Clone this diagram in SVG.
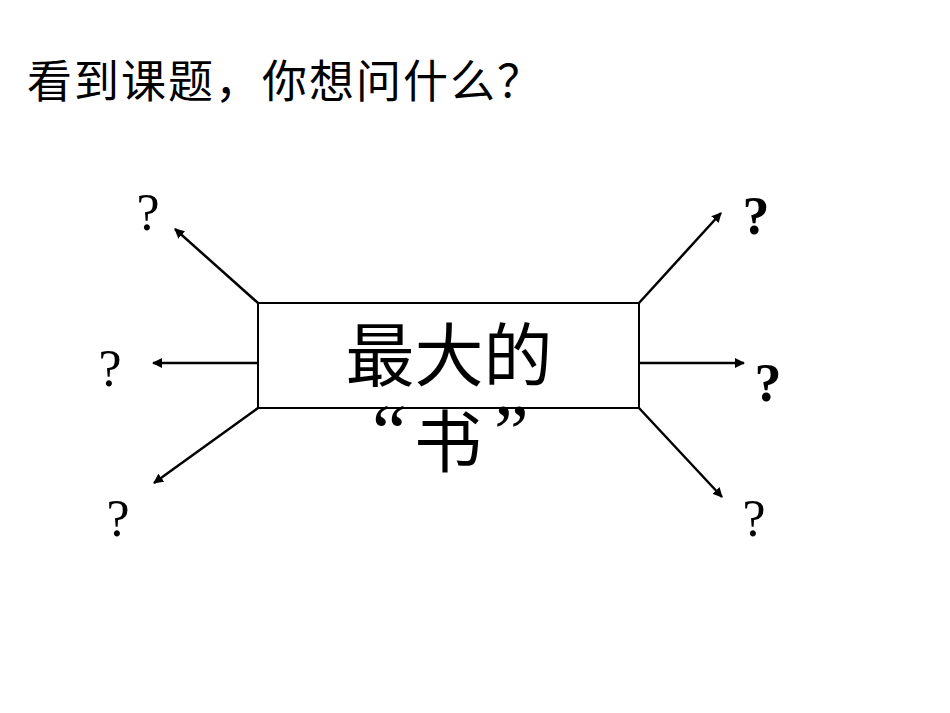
<svg xmlns="http://www.w3.org/2000/svg" width="950" height="713" viewBox="0 0 950 713">
<style>
.cjk{font-family:"Noto Sans CJK SC",sans-serif;fill:#000}
.q{font-family:"Liberation Serif",serif;font-size:52px;fill:#000}
.qb{font-family:"Liberation Serif",serif;font-size:54px;font-weight:bold;fill:#000}
.qt{font-family:"Liberation Serif",serif;font-size:78px;fill:#000}
.c{stroke:#000;stroke-width:2.5;fill:none;marker-end:url(#ah)}
</style>
<defs>
<marker id="ah" viewBox="0 0 10 10" refX="9" refY="5" markerWidth="4" markerHeight="4" orient="auto" markerUnits="strokeWidth">
<path d="M0,0 L10,5 L0,10 z" fill="#000"/>
</marker>
</defs>
<rect width="950" height="713" fill="#fff"/>
<g id="title"><text class="cjk" x="27 74 121 168 215 262 309 356 403 450 497" y="98" font-size="45">看到课题，你想问什么？</text></g>
<g id="center">
<rect x="258" y="303" width="381" height="105" fill="#fff" stroke="#000" stroke-width="2"/>
<text class="cjk" x="449" y="381" font-size="69" text-anchor="middle">最大的</text>
<text class="qt" x="372" y="458">“</text>
<text class="cjk" x="414" y="467" font-size="68">书</text>
<text class="qt" x="494" y="458">”</text>
</g>
<g id="connectors">
<line class="c" x1="258" y1="303" x2="175" y2="229"/>
<line class="c" x1="258" y1="363" x2="153" y2="363"/>
<line class="c" x1="258" y1="408" x2="154" y2="483"/>
<line class="c" x1="639" y1="303" x2="721" y2="213"/>
<line class="c" x1="639" y1="363" x2="744" y2="363"/>
<line class="c" x1="639" y1="408" x2="722" y2="497"/>
</g>
<g id="q1"><text class="q" x="148" y="230" text-anchor="middle">?</text></g>
<g id="q2"><text class="q" x="110" y="386" text-anchor="middle">?</text></g>
<g id="q3"><text class="q" x="118" y="536" text-anchor="middle">?</text></g>
<g id="q4"><text class="qb" x="756" y="234" text-anchor="middle">?</text></g>
<g id="q5"><text class="qb" x="768" y="401" text-anchor="middle">?</text></g>
<g id="q6"><text class="q" x="754" y="536" text-anchor="middle">?</text></g>
</svg>
